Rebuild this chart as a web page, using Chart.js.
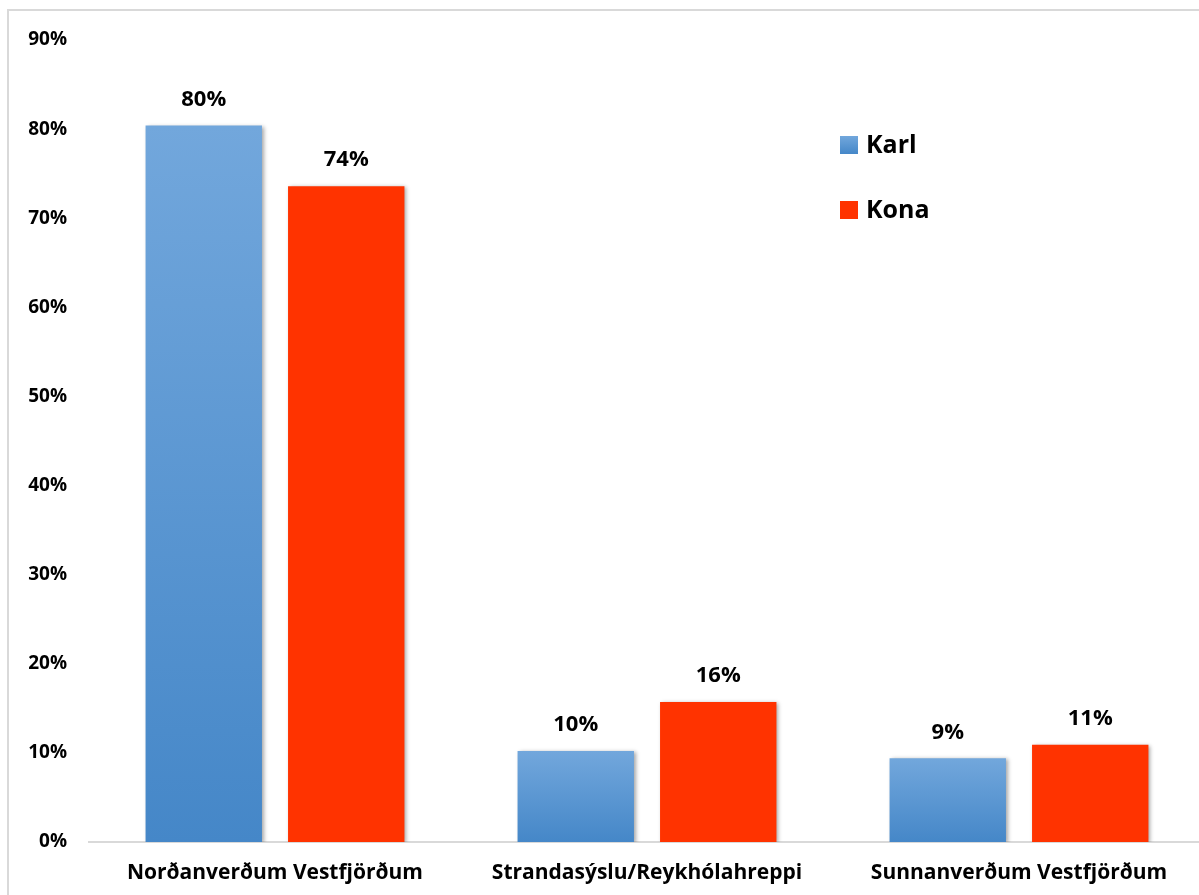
<!DOCTYPE html>
<html>
<head>
<meta charset="utf-8">
<script src="https://cdn.jsdelivr.net/npm/chart.js@4/dist/chart.umd.min.js"></script>
<style>
  html, body { margin: 0; padding: 0; background: #fff; overflow: hidden; }
  #frame { position: absolute; left: 7px; top: 9px; width: 1200px; height: 900px;
           border-left: 2px solid #d9d9d9; border-top: 2px solid #d9d9d9; }
  #wrap { position: absolute; left: 0; top: 0; width: 1205px; height: 895px; }
</style>
</head>
<body>
<div id="frame"></div>
<div id="wrap"><canvas id="myChart"></canvas></div>
<script>
// ========== data
const categories = ['Norðanverðum Vestfjörðum', 'Strandasýslu/Reykhólahreppi', 'Sunnanverðum Vestfjörðum'];
const karl = [80.4, 10.2, 9.4];
const kona = [73.6, 15.7, 10.9];
const seriesNames = ['Karl', 'Kona'];
const yTicks = [0, 10, 20, 30, 40, 50, 60, 70, 80, 90];

const FONT = "'Open Sans', sans-serif";
const RED = '#ff3300';

// blue bars fade from light at the top to darker at the base
function blueGradient(c) {
  const chart = c.chart;
  if (!chart.chartArea || c.raw === undefined) return '#5b97d3';
  const y = chart.scales.y;
  const top = y.getPixelForValue(c.raw);
  const bot = y.getPixelForValue(0);
  const g = chart.ctx.createLinearGradient(0, top, 0, bot);
  g.addColorStop(0, '#72a7dc');
  g.addColorStop(1, '#4587c8');
  return g;
}

// ========== plugins
const barShadow = {
  id: 'barShadow',
  beforeDatasetsDraw(chart) {
    const ctx = chart.ctx;
    ctx.save();
    ctx.shadowColor = 'rgba(0,0,0,0.35)';
    ctx.shadowBlur = 4;
    ctx.shadowOffsetX = 2;
    ctx.shadowOffsetY = 1;
  },
  afterDatasetsDraw(chart) {
    chart.ctx.restore();
  }
};

const valueLabels = {
  id: 'valueLabels',
  afterDraw(chart) {
    const ctx = chart.ctx;
    ctx.save();
    ctx.font = "bold 22px " + FONT;
    ctx.fillStyle = '#000';
    ctx.textAlign = 'center';
    ctx.textBaseline = 'middle';
    chart.data.datasets.forEach((ds, i) => {
      chart.getDatasetMeta(i).data.forEach((bar, j) => {
        ctx.fillText(Math.round(ds.data[j]) + '%', bar.x, bar.y - 26);
      });
    });
    ctx.restore();
  }
};

const sideLegend = {
  id: 'sideLegend',
  afterDraw(chart) {
    const ctx = chart.ctx;
    const rows = [145, 210];
    ctx.save();
    ctx.font = "bold 25px " + FONT;
    ctx.textBaseline = 'middle';
    chart.data.datasets.forEach((ds, i) => {
      const y = rows[i];
      if (i === 0) {
        const g = ctx.createLinearGradient(0, y - 9, 0, y + 9);
        g.addColorStop(0, '#72a7dc');
        g.addColorStop(1, '#4587c8');
        ctx.fillStyle = g;
      } else {
        ctx.fillStyle = RED;
      }
      ctx.fillRect(840, y - 9, 18, 18);
      ctx.fillStyle = '#000';
      ctx.fillText(ds.label, 866, y + 1);
    });
    ctx.restore();
  }
};

// ========== chart
const ctx1 = document.getElementById('myChart').getContext('2d');
const myChart = new Chart(ctx1, {
  type: 'bar',
  data: {
    labels: categories,
    datasets: [
      { label: seriesNames[0], data: karl, backgroundColor: blueGradient },
      { label: seriesNames[1], data: kona, backgroundColor: RED }
    ]
  },
  options: {
    responsive: true,
    maintainAspectRatio: false,
    animation: false,
    categoryPercentage: 0.766,
    barPercentage: 0.817,
    layout: { padding: { top: 40, right: 0, left: 0, bottom: 0 } },
    plugins: {
      legend: { display: false },
      tooltip: { enabled: false }
    },
    scales: {
      x: {
        grid: { display: false, drawTicks: false },
        border: { display: true, color: '#d9d9d9', width: 2 },
        ticks: { color: '#000', padding: 18, maxRotation: 0,
                 font: { family: FONT, size: 21, weight: 'bold' } },
        afterFit(s) { s.height = 53; }
      },
      y: {
        min: 0,
        max: 90,
        afterBuildTicks(s) { s.ticks = yTicks.map(v => ({ value: v })); },
        grid: { display: false, drawTicks: false },
        border: { display: false },
        ticks: { color: '#000', padding: 22,
                 font: { family: FONT, size: 19, weight: 'bold' },
                 callback: v => v + '%' },
        afterFit(s) { s.width = 89; }
      }
    }
  },
  plugins: [barShadow, valueLabels, sideLegend]
});
</script>
</body>
</html>
